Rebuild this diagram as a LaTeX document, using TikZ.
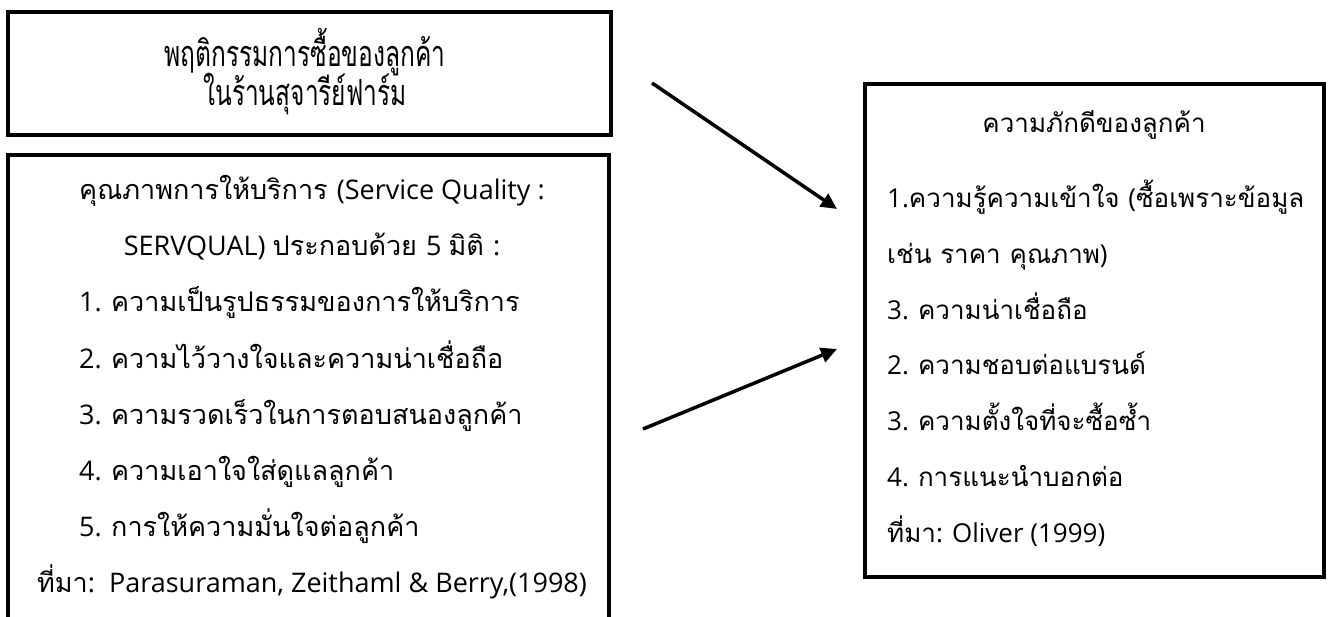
\documentclass[tikz,border=0pt]{standalone}
\usepackage{fontspec}
\setmainfont[Script=Thai]{Loma}
\newfontfamily\lat{Open Sans}
\usetikzlibrary{arrows.meta}
\newcommand{\condtxt}[1]{\scalebox{0.68}[1]{#1}}
\tikzset{
  x=1pt, y=-1pt,
  box/.style={draw=black, line width=4pt, inner sep=0pt, outer sep=0pt, anchor=north west},
  ttl/.style={inner sep=0pt, anchor=base, font=\fontsize{36}{36}\selectfont},
  txt/.style={inner sep=0pt, anchor=base, font=\fontsize{27}{27}\selectfont},
  ltxt/.style={txt, anchor=base west},
  rtxt/.style={inner sep=0pt, anchor=base west, font=\fontsize{26}{26}\selectfont},
  conn/.style={line width=3.5pt, -{Triangle[length=16pt,width=15pt]}},
}
\begin{document}
\begin{tikzpicture}
\useasboundingbox (0,0) rectangle (1332,616);
% boxes
\node[box, minimum width=603pt, minimum height=123pt] (b1) at (8,12) {};
\node[box, minimum width=601pt, minimum height=490pt] (b2) at (8,155) {};
\node[box, minimum width=459pt, minimum height=493pt] (b3) at (865,84) {};
% box 1 text
\node[ttl] (t11) at (305,66) {\condtxt{พฤติกรรมการซื้อของลูกค้า}};
\node[ttl] (t12) at (305,105) {\condtxt{ในร้านสุจารีย์ฟาร์ม}};
% box 2 text
\node[txt] (t21) at (312,199) {คุณภาพการให้บริการ {\lat (Service Quality :}};
\node[txt] (t22) at (312,255) {{\lat SERVQUAL) }ประกอบด้วย {\lat 5 }มิติ {\lat :}};
\node[ltxt] (t23) at (79,311) {{\lat 1. }ความเป็นรูปธรรมของการให้บริการ};
\node[ltxt] (t24) at (79,368) {{\lat 2. }ความไว้วางใจและความน่าเชื่อถือ};
\node[ltxt] (t25) at (79,424) {{\lat 3. }ความรวดเร็วในการตอบสนองลูกค้า};
\node[ltxt] (t26) at (79,480) {{\lat 4. }ความเอาใจใส่ดูแลลูกค้า};
\node[ltxt] (t27) at (79,536) {{\lat 5. }การให้ความมั่นใจต่อลูกค้า};
\node[txt] (t28) at (312,592) {ที่มา{\lat :\ \ Parasuraman, Zeithaml \& Berry,(1998)}};
% box 3 text
\node[rtxt, anchor=base] (t31) at (1094,132) {ความภักดีของลูกค้า};
\node[rtxt] (t32) at (887,207) {{\lat 1.}ความรู้ความเข้าใจ {\lat (}ซื้อเพราะข้อมูล};
\node[rtxt] (t33) at (887,263) {เช่น ราคา คุณภาพ{\lat )}};
\node[rtxt] (t34) at (887,319) {{\lat 3. }ความน่าเชื่อถือ};
\node[rtxt] (t35) at (887,374) {{\lat 2. }ความชอบต่อแบรนด์};
\node[rtxt] (t36) at (887,430) {{\lat 3. }ความตั้งใจที่จะซื้อซ้ำ};
\node[rtxt] (t37) at (887,486) {{\lat 4. }การแนะนำบอกต่อ};
\node[rtxt] (t38) at (887,542) {ที่มา{\lat : Oliver (1999)}};
% arrows
\coordinate (a1s) at (652,83);
\coordinate (a1e) at (837,209);
\coordinate (a2s) at (643,429);
\coordinate (a2e) at (837,349);
\draw[conn] (a1s) -- (a1e);
\draw[conn] (a2s) -- (a2e);
\end{tikzpicture}
\end{document}
